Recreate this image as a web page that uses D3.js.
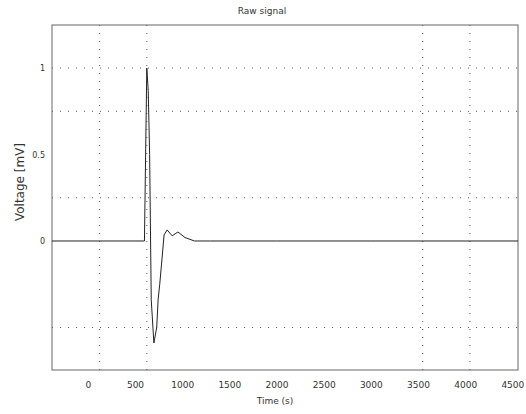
<!DOCTYPE html>
<html lang="en">
<head>
<meta charset="UTF-8">
<title>Raw signal</title>
<script src="https://d3js.org/d3.v7.min.js"></script>
<style>
  body { margin: 0; background: #fff; }
  text { font-family: "DejaVu Sans", sans-serif; fill: #333; }
</style>
</head>
<body>
<script>
// values
const xTicks = [0, 500, 1000, 1500, 2000, 2500, 3000, 3500, 4000, 4500];
const yTicks = [0, 0.5, 1];
const gridX = [125, 625, 3550, 4050];
const gridY = [1, 0.75, 0.25, -0.5];
const time = [-380, 600, 625, 640, 655, 672, 700, 730, 745, 762, 785, 808, 840, 894, 955, 1030, 1130, 1300, 2000, 3000, 4000, 4560];
const signal = [0, 0, 1.0, 0.87, 0.5, -0.34, -0.59, -0.5, -0.34, -0.25, -0.11, 0.035, 0.064, 0.03, 0.052, 0.02, 0, 0, 0, 0, 0, 0];

const width = 526, height = 414;
const mLeft = 52, mRight = 518, mTop = 25, mBottom = 370;

const svg = d3.select("body").append("svg")
    .attr("width", width)
    .attr("height", height);

const x = d3.scaleLinear().domain([-380, 4560]).range([mLeft, mRight]);
const y = d3.scaleLinear().domain([-0.746, 1.249]).range([mBottom, mTop]);

// dotted grid
svg.append("g").selectAll("line").data(gridX).join("line")
    .attr("x1", d => x(d)).attr("x2", d => x(d))
    .attr("y1", mTop).attr("y2", mBottom)
    .attr("stroke", "#555").attr("stroke-width", 1)
    .attr("stroke-dasharray", "1,7");
svg.append("g").selectAll("line").data(gridY).join("line")
    .attr("x1", mLeft).attr("x2", mRight)
    .attr("y1", d => y(d)).attr("y2", d => y(d))
    .attr("stroke", "#555").attr("stroke-width", 1)
    .attr("stroke-dasharray", "1,7");

// frame
svg.append("rect")
    .attr("x", mLeft).attr("y", mTop)
    .attr("width", mRight - mLeft).attr("height", mBottom - mTop)
    .attr("fill", "none").attr("stroke", "#666").attr("stroke-width", 1);

// axes (labels only)
svg.append("g")
    .attr("transform", `translate(0,${mBottom})`)
    .call(d3.axisBottom(x).tickValues(xTicks).tickFormat(d3.format("d")).tickSize(0).tickPadding(12))
    .call(g => g.select(".domain").remove())
    .selectAll("text").attr("font-size", 9).attr("fill", "#444");

svg.append("g")
    .attr("transform", `translate(${mLeft},0)`)
    .call(d3.axisLeft(y).tickValues(yTicks).tickFormat(d3.format("~g")).tickSize(0).tickPadding(7))
    .call(g => g.select(".domain").remove())
    .selectAll("text").attr("font-size", 8).attr("fill", "#444");

// signal
svg.append("path")
    .datum(d3.zip(time, signal))
    .attr("fill", "none")
    .attr("stroke", "#222")
    .attr("stroke-width", 1)
    .attr("d", d3.line().x(d => x(d[0])).y(d => y(d[1])));

// texts
svg.append("text")
    .attr("x", 262).attr("y", 14)
    .attr("text-anchor", "middle").attr("font-size", 9)
    .text("Raw signal");

svg.append("text")
    .attr("x", 275).attr("y", 404)
    .attr("text-anchor", "middle").attr("font-size", 9)
    .text("Time (s)");

svg.append("text")
    .attr("transform", "translate(24,182) rotate(-90)")
    .attr("text-anchor", "middle").attr("font-size", 12)
    .text("Voltage [mV]");
</script>
</body>
</html>
